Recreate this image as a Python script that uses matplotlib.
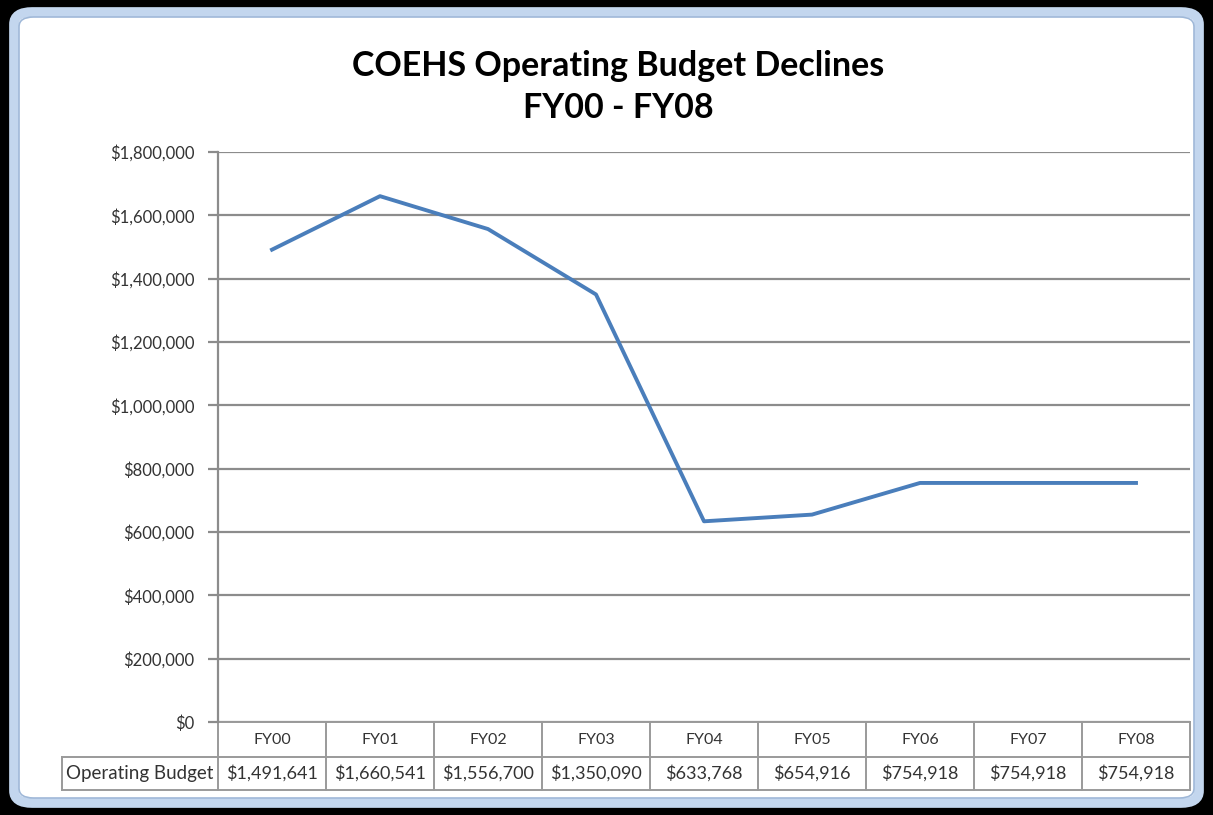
import matplotlib
matplotlib.use("Agg")
import matplotlib.pyplot as plt
from matplotlib.patches import FancyBboxPatch
from matplotlib.ticker import FuncFormatter, MultipleLocator

categories = ["FY00", "FY01", "FY02", "FY03", "FY04", "FY05", "FY06", "FY07", "FY08"]
budget = [1491641, 1660541, 1556700, 1350090, 633768, 654916, 754918, 754918, 754918]
row_label = "Operating Budget"
title_lines = ["COEHS Operating Budget Declines", "FY00 - FY08"]

plt.rcParams['font.family'] = ['Lato', 'DejaVu Sans']

W, H = 1213, 815
fig = plt.figure(figsize=(W / 100, H / 100), dpi=100, facecolor='black')

# white rounded panel with light blue frame
panel = FancyBboxPatch((14 / W, 12 / H), (W - 28) / W, (H - 24) / H,
                       boxstyle="round,pad=0,rounding_size=0.015",
                       transform=fig.transFigure, facecolor='white',
                       edgecolor='#c3d6ee', linewidth=7, zorder=-2)
fig.patches.append(panel)
panel2 = FancyBboxPatch((19 / W, 17 / H), (W - 38) / W, (H - 34) / H,
                        boxstyle="round,pad=0,rounding_size=0.012",
                        transform=fig.transFigure, facecolor='white',
                        edgecolor='#9fb8d8', linewidth=1.2, zorder=-1)
fig.patches.append(panel2)

left, right, top, bottom = 218, 1190, 152, 722
ax = fig.add_axes([left / W, 1 - bottom / H, (right - left) / W, (bottom - top) / H])
ax.set_facecolor('none')
ax.set_zorder(2)

x = list(range(len(categories)))
ax.plot(x, budget, color='#4a7ebb', linewidth=2.8, solid_joinstyle='round', zorder=3)

ax.set_xlim(-0.5, len(categories) - 0.5)
ax.set_ylim(0, 1800000)
ax.yaxis.set_major_locator(MultipleLocator(200000))
ax.yaxis.set_major_formatter(FuncFormatter(lambda v, p: "${:,.0f}".format(v)))
ax.grid(axis='y', color='#8c8c8c', linewidth=1.6)
ax.set_axisbelow(True)
for s in ['top', 'right', 'bottom']:
    ax.spines[s].set_visible(False)
ax.spines['left'].set_color('#8c8c8c')
ax.spines['left'].set_linewidth(1.6)
ax.tick_params(axis='y', length=7, width=1.6, color='#8c8c8c', labelsize=12,
               labelcolor='#333333', pad=10)
ax.tick_params(axis='x', bottom=False, labelbottom=False)

# data table under the axis
tr = ax.get_xaxis_transform()
axh = bottom - top
y0 = 0.0
y1 = -(757 - bottom) / axh
y2 = -(790 - bottom) / axh
label_left = -0.5 - (left - 62) / ((right - left) / len(categories))
lc = '#9a9a9a'
lw = 1.4
kw = dict(transform=tr, clip_on=False, color=lc, linewidth=lw)
n = len(categories)
ax.plot([-0.5, n - 0.5], [y0, y0], **kw)
ax.plot([label_left, n - 0.5], [y1, y1], **kw)
ax.plot([label_left, n - 0.5], [y2, y2], **kw)
ax.plot([label_left, label_left], [y1, y2], **kw)
for i in range(n + 1):
    ax.plot([i - 0.5, i - 0.5], [y0, y2], **kw)
for i, (c, v) in enumerate(zip(categories, budget)):
    ax.text(i, (y0 + y1) / 2, c, transform=tr, ha='center', va='center',
            fontsize=11.5, color='#333333', clip_on=False)
    ax.text(i, (y1 + y2) / 2, "${:,.0f}".format(v), transform=tr, ha='center',
            va='center', fontsize=13, color='#333333', clip_on=False)
ax.text((label_left - 0.5) / 2, (y1 + y2) / 2, row_label, transform=tr,
        ha='center', va='center', fontsize=13.5, color='#333333', clip_on=False)

fig.text(618 / W, 1 - 76 / H, title_lines[0], ha='center', va='baseline', fontsize=24.5,
         fontweight='bold', color='black')
fig.text(618 / W, 1 - 118 / H, title_lines[1], ha='center', va='baseline', fontsize=24.5,
         fontweight='bold', color='black')

fig.savefig("out.png", dpi=100, facecolor='black')
